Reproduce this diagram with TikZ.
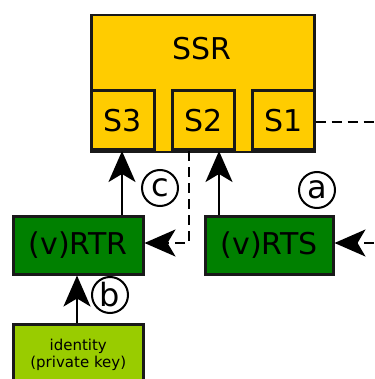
\documentclass[tikz,border=0pt]{standalone}
\usepackage{fontspec}
\setmainfont{DejaVu Sans}
\usetikzlibrary{arrows.meta}
\definecolor{ssryellow}{RGB}{255,204,0}
\definecolor{rtgreen}{RGB}{0,128,0}
\definecolor{idgreen}{RGB}{153,204,0}
\begin{document}
\begin{tikzpicture}[x=1pt,y=-1pt,
  box/.style={draw=black!90,line width=2.5pt,inner sep=0pt},
  big/.style={font=\fontsize{30}{34}\selectfont},
  tip/.style={-{Stealth[length=31pt,width=27pt,inset=8pt]}},
  conn/.style={line width=2pt,tip},
  link/.style={line width=2pt,dash pattern=on 10pt off 6pt},
  stepmark/.style={circle,draw,line width=2pt,minimum size=36pt,inner sep=0pt,
    font=\fontsize{32}{32}\selectfont}]
\useasboundingbox (0,0) rectangle (374,379);
% secure storage with its three slots
\node[box,fill=ssryellow,minimum width=223pt,minimum height=137pt,anchor=north west]
  (ssr) at (90,14) {};
\node[big] (ssrlabel) at (202,49) {SSR};
\node[box,fill=ssryellow,minimum width=63pt,minimum height=59pt,anchor=south west,big]
  (s3) at (90,151) {S3};
\node[box,fill=ssryellow,minimum width=62pt,minimum height=59pt,anchor=south west,big]
  (s2) at (171,151) {S2};
\node[box,fill=ssryellow,minimum width=62pt,minimum height=59pt,anchor=south west,big]
  (s1) at (251,151) {S1};
% root-of-trust boxes
\node[box,fill=rtgreen,minimum width=130pt,minimum height=58pt,anchor=north west,big]
  (rtr) at (12,215) {(v)RTR};
\node[box,fill=rtgreen,minimum width=128pt,minimum height=58pt,anchor=north west,big]
  (rts) at (204,215) {(v)RTS};
\node[box,fill=idgreen,minimum width=130pt,minimum height=62pt,anchor=north west,
  align=center,font=\fontsize{15}{17}\selectfont] (id) at (12,323) {identity\\(private key)};
% outside end points
\coordinate (outS1) at (374,122);
\coordinate (outRTS) at (374,243);
\coordinate (bend) at (189,243);
% connectors
\draw[link] (s1.east |- outS1) -- (outS1);
\draw[conn] (rtr.north -| 122,0) -- (s3.south -| 122,0);
\draw[conn] (rts.north -| 219,0) -- (s2.south -| 219,0);
\draw[link,tip] (s2.south -| bend) -- (bend) -- (rtr.east |- bend);
\draw[link,tip] (outRTS) -- (rts.east |- outRTS);
\draw[conn] (id.north -| 77,0) -- (rtr.south -| 77,0);
% step markers
\node[stepmark] (mc) at (160,188) {c};
\node[stepmark] (ma) at (317,190) {a};
\node[stepmark] (mb) at (110,295) {b};
\end{tikzpicture}
\end{document}
